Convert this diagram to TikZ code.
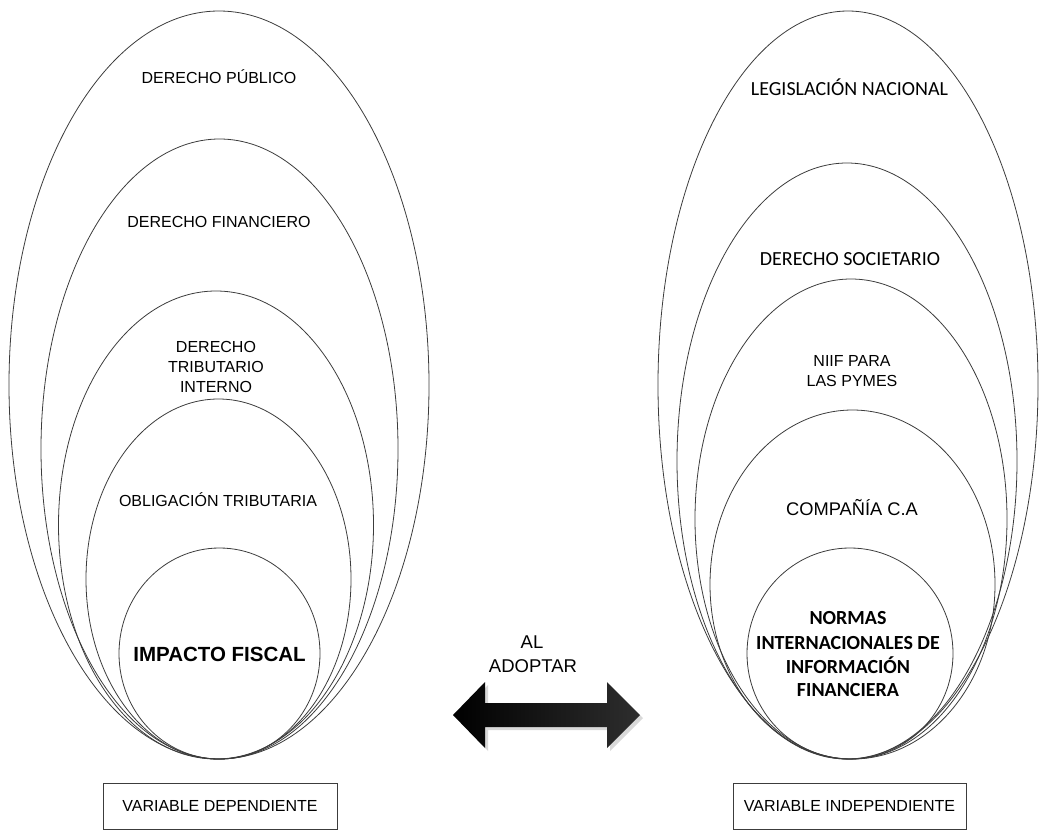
\documentclass[tikz,border=0pt]{standalone}
\usepackage{fontspec}
\setmainfont{Liberation Sans}
\newfontfamily\calfont{Carlito}
\usetikzlibrary{shapes.geometric}
\definecolor{linec}{HTML}{3C3C3C}
\tikzset{
  ell/.style={draw=linec, line width=0.8pt, ellipse, inner sep=0pt, outer sep=0pt},
  lbl/.style={anchor=base, inner sep=0pt, font=\fontsize{16}{19}\selectfont},
  lblc/.style={anchor=base, inner sep=0pt, font=\calfont\fontsize{20}{24}\selectfont},
  varbox/.style={draw=linec, line width=0.8pt, minimum height=46pt, inner sep=0pt, font=\fontsize{16}{19}\selectfont}
}
\begin{document}
\begin{tikzpicture}[x=1pt,y=-1pt]
\useasboundingbox (0,0) rectangle (1039,830);
% left group
\node[ell, minimum width=420pt, minimum height=748pt] (L1) at (219,385) {};
\node[ell, minimum width=357pt, minimum height=620pt] (L2) at (219.5,449) {};
\node[ell, minimum width=315pt, minimum height=468pt] (L3) at (216,525) {};
\node[ell, minimum width=265pt, minimum height=360pt] (L4) at (218.5,579) {};
\node[ell, minimum width=201pt, minimum height=211pt] (L5) at (219.5,653.5) {};
\node[lbl] (tL1) at (219,83) {DERECHO PÚBLICO};
\node[lbl] (tL2) at (219,227) {DERECHO FINANCIERO};
\node[lbl] (tL3a) at (216,352) {DERECHO};
\node[lbl] (tL3b) at (216,372) {TRIBUTARIO};
\node[lbl] (tL3c) at (216,392) {INTERNO};
\node[lbl] (tL4) at (218,506) {OBLIGACIÓN TRIBUTARIA};
\node[lbl, font=\bfseries\fontsize{20.5}{24}\selectfont] (tL5) at (219.5,661) {IMPACTO FISCAL};
\node[varbox, minimum width=234pt] (vd) at (220,806) {VARIABLE DEPENDIENTE};
% right group
\node[ell, minimum width=380pt, minimum height=748pt] (R1) at (848,385) {};
\node[ell, minimum width=340pt, minimum height=596pt] (R2) at (847,461) {};
\node[ell, minimum width=312pt, minimum height=480pt] (R3) at (851,519) {};
\node[ell, minimum width=285pt, minimum height=349pt] (R4) at (852.5,584.5) {};
\node[ell, minimum width=206pt, minimum height=211pt] (R5) at (850,653.5) {};
\node[lblc] (tR1) at (849.5,95) {LEGISLACIÓN NACIONAL};
\node[lblc] (tR2) at (850,265) {DERECHO SOCIETARIO};
\node[lbl] (tR3a) at (852,366) {NIIF PARA};
\node[lbl] (tR3b) at (852,386) {LAS PYMES};
\node[lbl, font=\fontsize{18.3}{22}\selectfont] (tR4) at (852,515) {COMPAÑÍA C.A};
\node[lblc, font=\calfont\bfseries\fontsize{20}{24}\selectfont] (tR5a) at (848,624) {NORMAS};
\node[lblc, font=\calfont\bfseries\fontsize{20}{24}\selectfont] (tR5b) at (848,649) {INTERNACIONALES DE};
\node[lblc, font=\calfont\bfseries\fontsize{20}{24}\selectfont] (tR5c) at (848,673) {INFORMACIÓN};
\node[lblc, font=\calfont\bfseries\fontsize{20}{24}\selectfont] (tR5d) at (848,696) {FINANCIERA};
\node[varbox, minimum width=233pt] (vi) at (849.5,806) {VARIABLE INDEPENDIENTE};
% middle arrow
\node[lbl, font=\fontsize{18.5}{22}\selectfont] (al1) at (532,648) {AL};
\node[lbl, font=\fontsize{18.5}{22}\selectfont] (al2) at (533,672) {ADOPTAR};
\fill[black!25, opacity=0.6] (456,718) -- (488,685) -- (488,706) -- (610,706) -- (610,685) -- (643,718) -- (610,751) -- (610,730) -- (488,730) -- (488,751) -- cycle;
\shade[left color=black, right color=black!82!white]
  (453,715) -- (485,682) -- (485,703) -- (607,703) -- (607,682) -- (640,715)
  -- (607,748) -- (607,727) -- (485,727) -- (485,748) -- cycle;
\end{tikzpicture}
\end{document}
